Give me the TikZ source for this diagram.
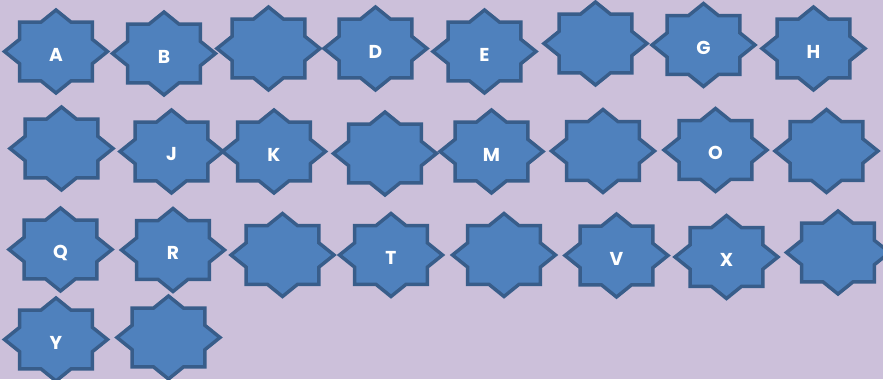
\documentclass[tikz,border=0pt]{standalone}
\usepackage{fontspec}
\newfontfamily\starfont{Poppins}
\usepackage{xcolor}
\usepackage{tikz}
\definecolor{lavbg}{RGB}{204,192,218}
\definecolor{starblue}{RGB}{79,129,189}
\definecolor{stardark}{RGB}{56,93,138}

\tikzset{
    badge/.pic={
        \draw[starline] (0:1) \foreach \k in {1,...,15}{ -- ({22.5*\k}:{mod(\k,2)==1 ? 0.765 : 1}) } -- cycle;
    }
}

\begin{document}
\begin{tikzpicture}[
    x=0.75pt, y=-0.75pt,
    starline/.style={fill=starblue, draw=stardark, line width=2.6pt, line join=miter},
    letter/.style={text=white, font=\starfont\bfseries\fontsize{14}{16}\selectfont, inner sep=0pt},
]
\clip (0,0) rectangle (883,379);
\fill[lavbg] (0,0) rectangle (883,379);

% stars, row by row: name / x / y / letter
\foreach \nm/\x/\y/\txt in {
    A/56/51.5/A, B/164/53.5/B, C/268.5/48.5/, D/375.5/48.5/D,
    E/484.5/51.5/E, F/595.5/43.5/, G/703.5/45/G, H/813.5/48.5/H,
    I/61.5/148.5/, J/171.5/151.5/J, K/274/151.5/K, L/385/153.5/,
    M/491.5/151.5/M, N/603/151/, O/715.5/150/O, P/826.5/151/,
    Q/60.5/249.5/Q, R/173/250/R, S/282.5/255/, T/391/255/T,
    U/504/255/, V/616.5/255.5/V, X/726.5/257/X, W/838/252.5/,
    Y/56/339.5/Y, Z/168.5/337.5/}
{
    \pic[xscale=51.5, yscale=41.5] at (\x,\y) {badge};
    \node[letter] (\nm) at (\x,\y+3) {\txt};
}
\end{tikzpicture}
\end{document}
